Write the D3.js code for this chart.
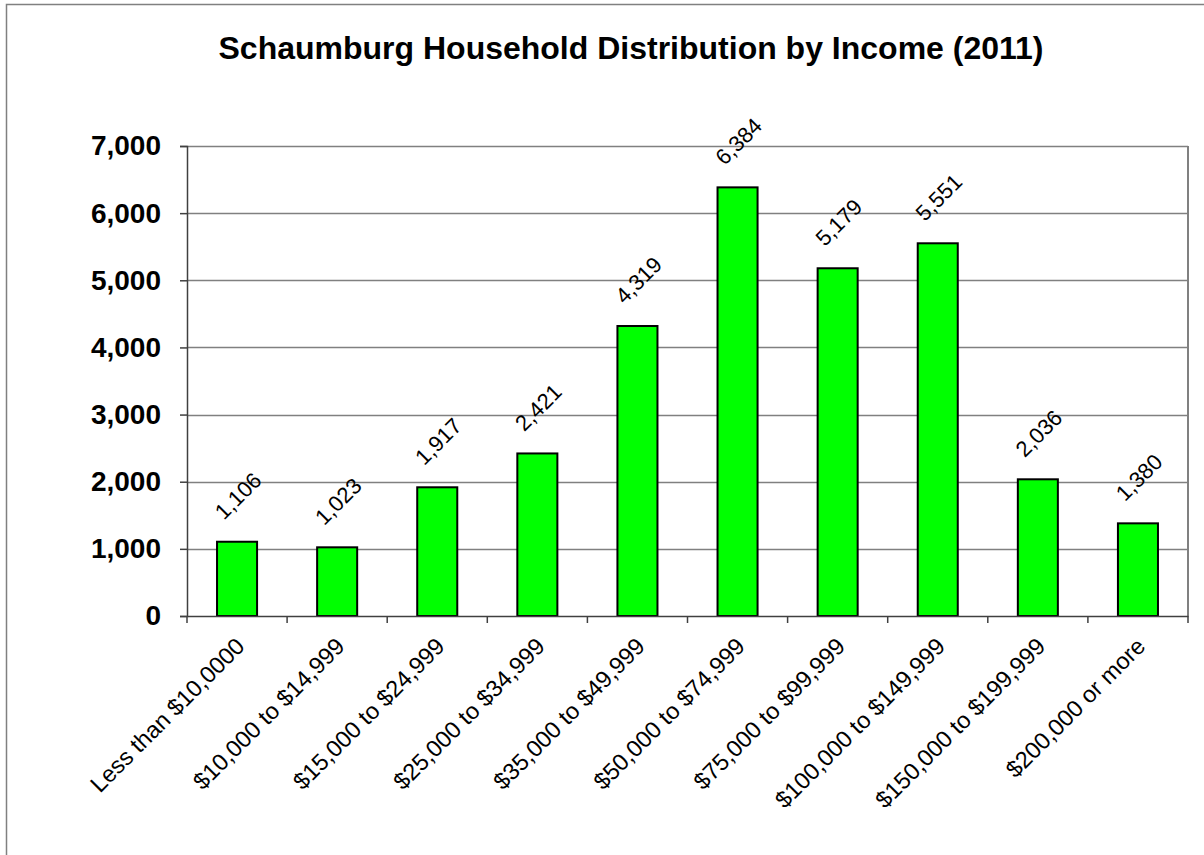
<!DOCTYPE html>
<html>
<head>
<meta charset="utf-8">
<script src="https://cdn.jsdelivr.net/npm/d3@7"></script>
<style>
  html, body { margin: 0; padding: 0; background: #fff; }
  svg { display: block; }
  text { font-family: "Liberation Sans", Arial, sans-serif; fill: #000; }
</style>
</head>
<body>
<svg id="chart" width="1204" height="855"></svg>
<script>
const title = "Schaumburg Household Distribution by Income (2011)";
const categories = [
  "Less than $10,0000",
  "$10,000 to $14,999",
  "$15,000 to $24,999",
  "$25,000 to $34,999",
  "$35,000 to $49,999",
  "$50,000 to $74,999",
  "$75,000 to $99,999",
  "$100,000 to $149,999",
  "$150,000 to $199,999",
  "$200,000 or more"
];
const values = [1106, 1023, 1917, 2421, 4319, 6384, 5179, 5551, 2036, 1380];
const yTicks = [0, 1000, 2000, 3000, 4000, 5000, 6000, 7000];

const svg = d3.select("#chart");
const W = 1204, H = 855;
const plot = { left: 187, right: 1188, top: 146, bottom: 616 };

svg.append("rect").attr("x", 0).attr("y", 0).attr("width", W).attr("height", H).attr("fill", "#fff");
// outer chart border
svg.append("rect")
  .attr("x", 6.5).attr("y", 4.5)
  .attr("width", W + 10).attr("height", H + 10)
  .attr("fill", "none").attr("stroke", "#808080").attr("stroke-width", 1.5);

const x = d3.scaleBand().domain(categories).range([plot.left, plot.right]).paddingInner(0).paddingOuter(0);
const y = d3.scaleLinear().domain([0, 7000]).range([plot.bottom, plot.top]);

// title
svg.append("text")
  .attr("x", 631).attr("y", 59)
  .attr("text-anchor", "middle")
  .attr("font-size", 32).attr("font-weight", "bold")
  .text(title);

// gridlines
svg.append("g").selectAll("line").data(yTicks.filter(d => d > 0)).join("line")
  .attr("x1", plot.left).attr("x2", plot.right)
  .attr("y1", d => Math.round(y(d)) + 0.5).attr("y2", d => Math.round(y(d)) + 0.5)
  .attr("stroke", "#808080").attr("stroke-width", 1.5);

// plot area right border
svg.append("line")
  .attr("x1", plot.right).attr("x2", plot.right)
  .attr("y1", plot.top).attr("y2", plot.bottom)
  .attr("stroke", "#808080").attr("stroke-width", 2);

// bars
const barW = x.bandwidth() * 0.4;
svg.append("g").selectAll("rect").data(values).join("rect")
  .attr("x", (d, i) => x(categories[i]) + (x.bandwidth() - barW) / 2)
  .attr("y", d => y(d))
  .attr("width", barW)
  .attr("height", d => plot.bottom - y(d))
  .attr("fill", "#00ff00")
  .attr("stroke", "#000").attr("stroke-width", 2);

// value labels
const fmt = d3.format(",");
svg.append("g").selectAll("text").data(values).join("text")
  .attr("transform", (d, i) => `translate(${x(categories[i]) + x.bandwidth() / 2 + 1},${y(d) - 46}) rotate(-45)`)
  .attr("text-anchor", "middle")
  .attr("dy", "0.35em")
  .attr("font-size", 22)
  .text(d => fmt(d));

// y axis
const yAxis = d3.axisLeft(y).tickValues(yTicks).tickFormat(fmt).tickSize(7).tickPadding(19);
const gy = svg.append("g").attr("transform", `translate(${plot.left},0)`).call(yAxis);
gy.select(".domain").attr("stroke", "#404040").attr("stroke-width", 1.5);
gy.selectAll(".tick line").attr("stroke", "#404040").attr("stroke-width", 1.5);
gy.selectAll(".tick text")
  .attr("font-family", "'Liberation Sans', Arial, sans-serif")
  .attr("font-size", 28).attr("font-weight", "bold").attr("fill", "#000");

// x axis
const xAxis = d3.axisBottom(x).tickSize(0).tickFormat("");
const gx = svg.append("g").attr("transform", `translate(0,${plot.bottom})`).call(xAxis);
gx.select(".domain").attr("stroke", "#404040").attr("stroke-width", 1.5);
// category separator ticks
const edges = categories.map(c => x(c)).concat([plot.right]);
gx.append("g").selectAll("line").data(edges).join("line")
  .attr("x1", d => d).attr("x2", d => d)
  .attr("y1", 0).attr("y2", 7)
  .attr("stroke", "#404040").attr("stroke-width", 1.5);

// x labels
svg.append("g").selectAll("text").data(categories).join("text")
  .attr("transform", c => `translate(${x(c) + x.bandwidth() / 2 + 3},${plot.bottom + 26}) rotate(-45)`)
  .attr("text-anchor", "end")
  .attr("dy", "0.35em")
  .attr("font-size", 23.5)
  .text(c => c);
</script>
</body>
</html>
